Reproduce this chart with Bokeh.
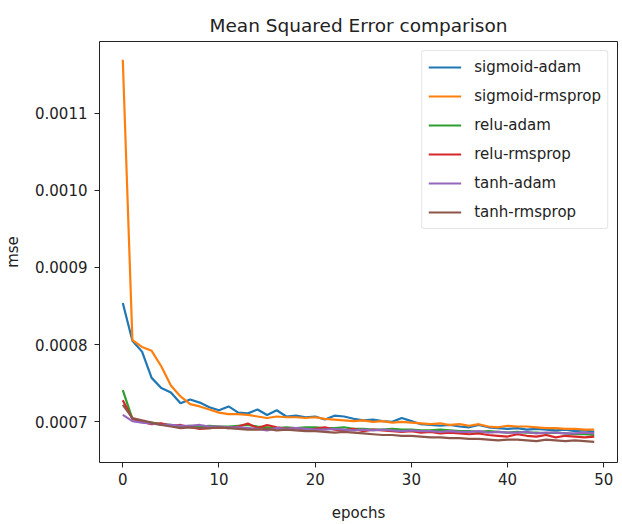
from bokeh.plotting import figure
from bokeh.models import FixedTicker, PrintfTickFormatter, Range1d, Legend, LegendItem
from bokeh.embed import file_html
from bokeh.resources import INLINE

epochs = list(range(50))

sigmoid_adam = [
    0.000854, 0.000805, 0.000791, 0.000757, 0.000744, 0.000738, 0.000724, 0.000729, 0.000725, 0.000719,
    0.000715, 0.000720, 0.000712, 0.000711, 0.000716, 0.000709, 0.000715, 0.000707, 0.000708, 0.000706,
    0.000707, 0.000703, 0.000708, 0.000707, 0.000704, 0.000702, 0.000703, 0.000701, 0.000700, 0.000705,
    0.000701, 0.000697, 0.000696, 0.000695, 0.000696, 0.000694, 0.000693, 0.000696, 0.000693, 0.000692,
    0.000691, 0.000692, 0.000690, 0.000691, 0.000690, 0.000689, 0.000690, 0.000688, 0.000689, 0.000687,
]
sigmoid_rmsprop = [
    0.001169, 0.000806, 0.000797, 0.000792, 0.000772, 0.000747, 0.000733, 0.000723, 0.000720, 0.000716,
    0.000712, 0.000710, 0.000710, 0.000709, 0.000707, 0.000705, 0.000707, 0.000706, 0.000706, 0.000705,
    0.000706, 0.000704, 0.000703, 0.000702, 0.000701, 0.000702, 0.000700, 0.000701, 0.000699, 0.000700,
    0.000699, 0.000698, 0.000697, 0.000698, 0.000696, 0.000697, 0.000695, 0.000697, 0.000694, 0.000693,
    0.000695, 0.000694, 0.000694, 0.000693, 0.000692, 0.000692, 0.000691, 0.000691, 0.000690, 0.000690,
]
relu_adam = [
    0.000741, 0.000704, 0.000700, 0.000699, 0.000697, 0.000696, 0.000694, 0.000695, 0.000694, 0.000695,
    0.000694, 0.000694, 0.000695, 0.000696, 0.000694, 0.000693, 0.000692, 0.000693, 0.000692, 0.000693,
    0.000693, 0.000692, 0.000692, 0.000693, 0.000691, 0.000691, 0.000690, 0.000690, 0.000691, 0.000690,
    0.000690, 0.000689, 0.000689, 0.000690, 0.000689, 0.000688, 0.000688, 0.000687, 0.000688, 0.000687,
    0.000686, 0.000687, 0.000686, 0.000686, 0.000685, 0.000686, 0.000685, 0.000684, 0.000684, 0.000683,
]
relu_rmsprop = [
    0.000728, 0.000704, 0.000700, 0.000697, 0.000698, 0.000695, 0.000696, 0.000693, 0.000691, 0.000692,
    0.000693, 0.000692, 0.000694, 0.000698, 0.000692, 0.000696, 0.000693, 0.000691, 0.000692, 0.000690,
    0.000691, 0.000693, 0.000690, 0.000689, 0.000691, 0.000688, 0.000690, 0.000689, 0.000688, 0.000687,
    0.000688, 0.000686, 0.000687, 0.000685, 0.000686, 0.000685, 0.000684, 0.000685, 0.000683, 0.000682,
    0.000681, 0.000684, 0.000682, 0.000681, 0.000683, 0.000680, 0.000682, 0.000681, 0.000680, 0.000681,
]
tanh_adam = [
    0.000709, 0.000701, 0.000699, 0.000698, 0.000696, 0.000696, 0.000695, 0.000695, 0.000696, 0.000694,
    0.000694, 0.000693, 0.000693, 0.000692, 0.000691, 0.000689, 0.000692, 0.000691, 0.000692, 0.000691,
    0.000690, 0.000690, 0.000691, 0.000690, 0.000689, 0.000690, 0.000689, 0.000690, 0.000689, 0.000688,
    0.000689, 0.000688, 0.000688, 0.000687, 0.000688, 0.000687, 0.000687, 0.000688, 0.000686, 0.000687,
    0.000686, 0.000686, 0.000687, 0.000685, 0.000686, 0.000686, 0.000685, 0.000685, 0.000686, 0.000685,
]
tanh_rmsprop = [
    0.000722, 0.000705, 0.000702, 0.000699, 0.000696, 0.000694, 0.000692, 0.000693, 0.000692, 0.000692,
    0.000693, 0.000692, 0.000691, 0.000690, 0.000690, 0.000691, 0.000689, 0.000690, 0.000689, 0.000688,
    0.000688, 0.000687, 0.000686, 0.000687, 0.000686, 0.000685, 0.000684, 0.000683, 0.000683, 0.000682,
    0.000682, 0.000681, 0.000680, 0.000680, 0.000679, 0.000679, 0.000678, 0.000678, 0.000677, 0.000676,
    0.000677, 0.000677, 0.000676, 0.000675, 0.000677, 0.000676, 0.000675, 0.000676, 0.000675, 0.000674,
]

series_names = ["sigmoid-adam", "sigmoid-rmsprop", "relu-adam", "relu-rmsprop", "tanh-adam", "tanh-rmsprop"]
series_values = [sigmoid_adam, sigmoid_rmsprop, relu_adam, relu_rmsprop, tanh_adam, tanh_rmsprop]
colors = ["#1f77b4", "#ff7f0e", "#2ca02c", "#d62728", "#9467bd", "#8c564b"]
x_ticks = [0, 10, 20, 30, 40, 50]
y_ticks = [0.0007, 0.0008, 0.0009, 0.0010, 0.0011]

FONT = "DejaVu Sans"

p = figure(width=622, height=524, output_backend="svg", toolbar_location=None,
           x_range=Range1d(-2.42, 51.42), y_range=Range1d(0.0006474, 0.0011926),
           min_border_left=99, min_border_right=5, min_border_top=41, min_border_bottom=61,
           title="Mean Squared Error comparison")
p.title.align = "center"
p.title.text_font = FONT
p.title.text_font_size = "18.5px"
p.title.text_font_style = "normal"
p.title.text_color = "#222222"
p.title.standoff = 12

p.xgrid.visible = False
p.ygrid.visible = False
p.outline_line_color = "#222222"
p.outline_line_width = 1
p.outline_line_alpha = 1

items = []
for name, vals, c in zip(series_names, series_values, colors):
    r = p.line(epochs, vals, line_color=c, line_width=2.2)
    items.append(LegendItem(label=name, renderers=[r]))

for ax in (p.xaxis[0], p.yaxis[0]):
    ax.axis_line_color = None
    ax.major_tick_line_color = "#222222"
    ax.major_tick_out = 5
    ax.major_tick_in = 0
    ax.minor_tick_line_color = None
    ax.major_label_text_font = FONT
    ax.major_label_text_font_size = "15px"
    ax.major_label_text_color = "#222222"
    ax.axis_label_text_font = FONT
    ax.axis_label_text_font_size = "15px"
    ax.axis_label_text_font_style = "normal"
    ax.axis_label_text_color = "#222222"

p.xaxis.ticker = FixedTicker(ticks=x_ticks)
p.yaxis.ticker = FixedTicker(ticks=y_ticks)
p.yaxis.formatter = PrintfTickFormatter(format="%.4f")
p.xaxis.axis_label = "epochs"
p.yaxis.axis_label = "mse"
p.xaxis.major_label_standoff = 5
p.yaxis.major_label_standoff = 7
p.xaxis.axis_label_standoff = 16
p.yaxis.axis_label_standoff = 10

legend = Legend(items=items, location="top_right")
legend.label_text_font = FONT
legend.label_text_font_size = "15px"
legend.label_text_color = "#222222"
legend.glyph_width = 33
legend.glyph_height = 20
legend.label_height = 20
legend.label_standoff = 13
legend.spacing = 9
legend.padding = 6
legend.margin = 9
legend.border_line_color = "#cccccc"
legend.border_line_width = 1
legend.border_radius = 3
legend.background_fill_alpha = 0.8
p.add_layout(legend)

open("out.html", "w").write(file_html(p, INLINE))
